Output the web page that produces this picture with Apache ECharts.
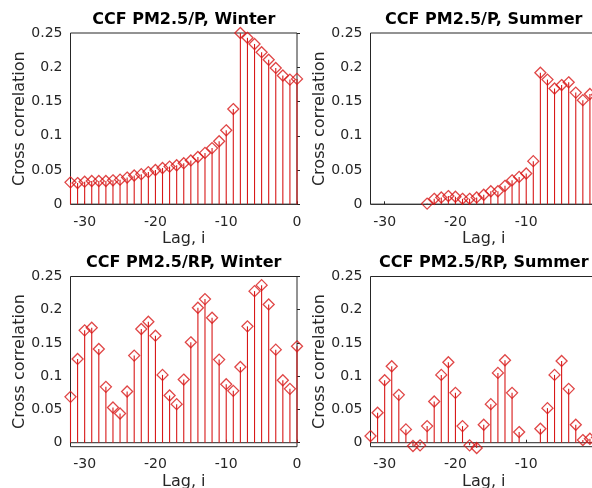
<!DOCTYPE html>
<html>
<head>
<meta charset="utf-8">
<script src="https://cdn.jsdelivr.net/npm/echarts@6/dist/echarts.min.js"></script>
<style>
html,body{margin:0;padding:0;background:#fff;overflow:hidden;}
#chart{width:592px;height:488px;}
</style>
</head>
<body>
<div id="chart"></div>
<script>
// ---- data ----
const lags = [-32,-31,-30,-29,-28,-27,-26,-25,-24,-23,-22,-21,-20,-19,-18,-17,-16,-15,-14,-13,-12,-11,-10,-9,-8,-7,-6,-5,-4,-3,-2,-1,0];
const winterP = [0.032,0.031,0.033,0.034,0.034,0.034,0.035,0.036,0.039,0.042,0.044,0.047,0.050,0.053,0.055,0.057,0.060,0.064,0.069,0.075,0.082,0.092,0.108,0.139,0.250,0.243,0.234,0.222,0.211,0.199,0.188,0.182,0.183];
const summerP = [null,null,null,null,null,null,null,null,0.001,0.008,0.010,0.012,0.011,0.008,0.008,0.010,0.014,0.019,0.019,0.027,0.035,0.040,0.045,0.063,0.192,0.182,0.169,0.174,0.178,0.163,0.152,0.161,0.160];
const winterRP = [0.069,0.126,0.169,0.173,0.141,0.084,0.053,0.044,0.077,0.131,0.171,0.182,0.161,0.102,0.071,0.058,0.095,0.151,0.203,0.216,0.188,0.125,0.088,0.078,0.114,0.175,0.228,0.237,0.208,0.140,0.094,0.081,0.145];
const summerRP = [0.010,0.045,0.094,0.115,0.072,0.020,-0.005,-0.004,0.025,0.062,0.102,0.121,0.075,0.025,-0.004,-0.008,0.027,0.058,0.105,0.124,0.075,0.016,null,null,0.021,0.052,0.102,0.123,0.081,0.027,0.004,0.006,0.008];
const titles = ['CCF PM2.5/P, Winter','CCF PM2.5/P, Summer','CCF PM2.5/RP, Winter','CCF PM2.5/RP, Summer'];
const xTicks = [-30,-20,-10,0];
const yTicks = [0,0.05,0.1,0.15,0.2,0.25];
const yLabel = 'Cross correlation';
const xLabel = 'Lag, i';

// ---- layout ----
const FONT = 'DejaVu Sans';
const AX = '#262626';
const RED = '#d81818';
const panels = [
  {left:70.5, top:33, h:171.3, ymin:0, data:winterP, tt:12},
  {left:370.5, top:33, h:171.3, ymin:0, data:summerP, tt:12},
  {left:70.5, top:276.5, h:170.2, ymin:-0.006, data:winterRP, tt:255},
  {left:370.5, top:276.5, h:170.2, ymin:-0.006, data:summerRP, tt:255}
];
const W = 226.5;

const grid = [], xAxis = [], yAxis = [], series = [], title = [];
panels.forEach((p, i) => {
  grid.push({left:p.left, top:p.top, width:W, height:p.h, show:true, borderColor:AX, borderWidth:1,
    backgroundColor:'#fff', containLabel:false, outerBoundsMode:'none'});
  title.push({text:titles[i], left:p.left + W/2, top:p.tt, textAlign:'center', padding:0,
    textStyle:{fontFamily:FONT, fontSize:16, fontWeight:'bold', color:'#000'}});
  xAxis.push({type:'value', gridIndex:i, min:-32, max:0,
    axisLine:{show:false}, splitLine:{show:false},
    axisTick:{show:true, inside:true, length:3, customValues:xTicks, lineStyle:{color:AX}},
    axisLabel:{customValues:xTicks, fontFamily:FONT, fontSize:14, color:AX, margin:11},
    name:xLabel, nameLocation:'middle', nameGap:27,
    nameTextStyle:{fontFamily:FONT, fontSize:16, color:AX}});
  yAxis.push({type:'value', gridIndex:i, min:p.ymin, max:0.25,
    axisLine:{show:false}, splitLine:{show:false},
    axisTick:{show:true, inside:true, length:3, customValues:yTicks, lineStyle:{color:AX}},
    axisLabel:{customValues:yTicks, fontFamily:FONT, fontSize:14, color:AX, margin:8,
      formatter: v => String(v)},
    name:yLabel, nameLocation:'middle', nameGap:42,
    nameTextStyle:{fontFamily:FONT, fontSize:16, color:AX}});
  const pts = [];
  lags.forEach((l, k) => { if (p.data[k] !== null) pts.push([l, p.data[k]]); });
  // baseline
  series.push({type:'line', xAxisIndex:i, yAxisIndex:i, data:[[-32,0],[0,0]], symbol:'none', silent:true,
    lineStyle:{color:AX, width:1}, z:1});
  // stems
  series.push({type:'custom', xAxisIndex:i, yAxisIndex:i, data:pts, clip:false, silent:true, z:2,
    renderItem:(params, api) => {
      const a = api.coord([api.value(0), 0]);
      const b = api.coord([api.value(0), api.value(1)]);
      return {type:'line', shape:{x1:a[0], y1:a[1], x2:b[0], y2:b[1]}, style:{stroke:RED, lineWidth:1.1}};
    }});
  // markers
  series.push({type:'scatter', xAxisIndex:i, yAxisIndex:i, data:pts, clip:false, silent:true, z:3,
    symbol:'diamond', symbolSize:[11,11],
    itemStyle:{color:'rgba(0,0,0,0)', borderColor:RED, borderWidth:1.3}});
});

const chart = echarts.init(document.getElementById('chart'), null, {renderer:'canvas'});
chart.setOption({animation:false, backgroundColor:'#fff', title, grid, xAxis, yAxis, series});
</script>
</body>
</html>
